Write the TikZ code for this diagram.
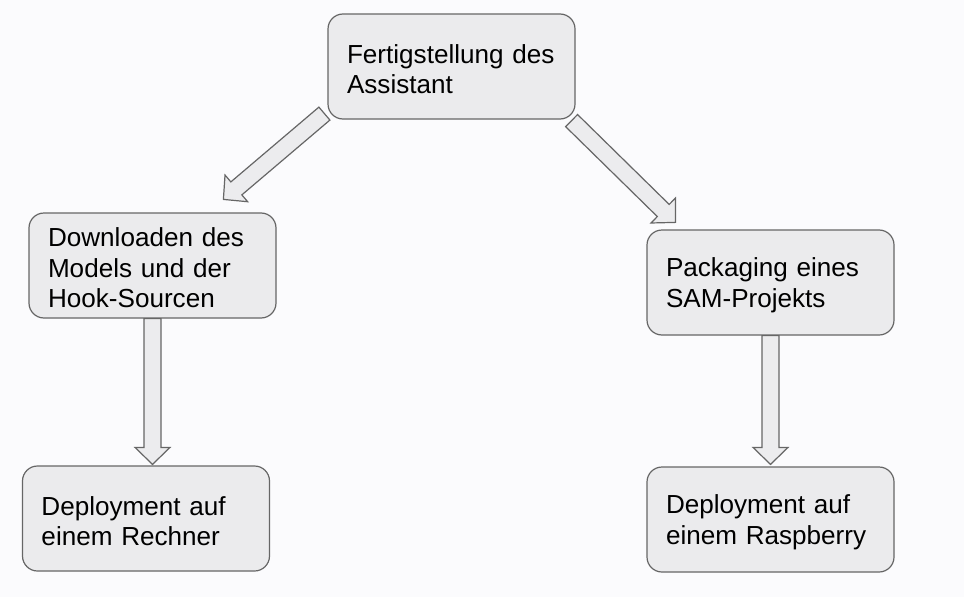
\documentclass[tikz,border=0pt]{standalone}
\usepackage{fontspec}
\setmainfont{Liberation Sans}
\usetikzlibrary{calc}
\definecolor{bgc}{RGB}{251,251,253}
\definecolor{boxfill}{RGB}{235,235,237}
\definecolor{boxline}{RGB}{102,102,102}
\definecolor{arrfill}{RGB}{236,236,238}
\newcommand\topstrut{\rule{0pt}{24pt}}
\tikzset{
  stepbox/.style={draw=boxline, fill=boxfill, line width=1.2pt, rounded corners=15pt,
    minimum width=247pt, minimum height=105pt, text width=209pt, inner xsep=19pt,
    align=left, font=\fontsize{26.1}{30.6}\selectfont, text=black},
  barrow/.style={draw=boxline, fill=arrfill, line width=1.2pt, line join=miter}
}
\newcommand\blockarrow[2]{%
  \draw[barrow] let \p1=($(#2)-(#1)$), \n1={atan2(\y1,\x1)}, \n2={veclen(\x1,\y1)} in
    [shift={(#1)}, rotate=\n1]
    (0pt,-8.5pt) -- ({\n2*1pt-17pt},-8.5pt) -- ({\n2*1pt-17pt},-17.5pt) -- ({\n2*1pt},0pt)
    -- ({\n2*1pt-17pt},17.5pt) -- ({\n2*1pt-17pt},8.5pt) -- (0pt,8.5pt) -- cycle;}
\begin{document}
\begin{tikzpicture}[x=1pt,y=-1pt]
\fill[bgc] (0,0) rectangle (964,597);
\useasboundingbox (0,0) rectangle (964,597);
\node[stepbox] (n1) at (451.5,66.5) {\topstrut Fertigstellung des\\Assistant};
\node[stepbox] (n2) at (152.5,265.5) {\topstrut Downloaden des\\Models und der\\Hook-Sourcen};
\node[stepbox] (n3) at (770.5,282.5) {\topstrut Packaging eines\\SAM-Projekts};
\node[stepbox] (n4) at (146,518.5) {\topstrut Deployment auf\\einem Rechner};
\node[stepbox] (n5) at (770.5,519.5) {\topstrut Deployment auf\\einem Raspberry};
\coordinate (a1s) at ($(n1.south west)+(-3,-6)$);
\coordinate (a1e) at ($(n2.north west)+(195,-13)$);
\coordinate (a2s) at ($(n1.south east)+(-4,1)$);
\coordinate (a2e) at ($(n3.north west)+(29,-7)$);
\coordinate (a3e) at ($(n2.south |- n4.north)+(0,-1)$);
\coordinate (a4e) at ($(n3.south |- n5.north)+(0,-2)$);
\blockarrow{a1s}{a1e}
\blockarrow{a2s}{a2e}
\blockarrow{n2.south}{a3e}
\blockarrow{n3.south}{a4e}
\end{tikzpicture}
\end{document}
